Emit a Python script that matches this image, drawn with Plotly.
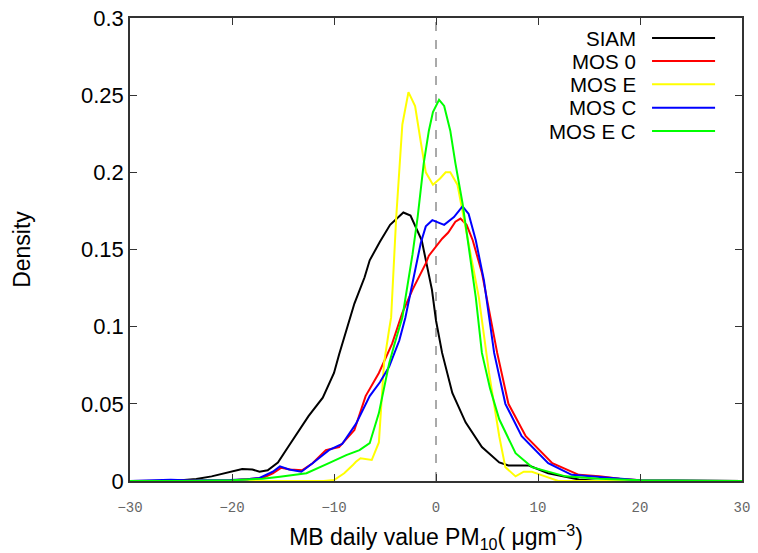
import plotly.graph_objects as go

# ---- data ----
siam_x = [-30, -26, -25, -23.5, -22, -20, -19, -18, -17.3, -16.5, -15.5, -14.5, -13.4, -12.5, -11.1, -10, -9.5, -8.8, -8, -7, -6.5, -5.5, -4.5, -3.2, -2.5, -1.4, -0.4, 0, 0.6, 1.6, 2.9, 4.5, 6.2, 7.1, 8, 9.1, 11, 14, 16, 30]
siam_y = [0, 0, 0.0005, 0.0013, 0.003, 0.006, 0.0078, 0.0075, 0.006, 0.007, 0.012, 0.022, 0.033, 0.042, 0.054, 0.07, 0.082, 0.098, 0.115, 0.132, 0.143, 0.155, 0.166, 0.174, 0.172, 0.156, 0.124, 0.104, 0.083, 0.057, 0.038, 0.022, 0.012, 0.010, 0.010, 0.010, 0.005, 0.001, 0, 0]

mos0_x = [-30, -26, -22, -20, -18, -17, -16, -15.2, -14.3, -13.1, -12.1, -10.8, -9.5, -8, -6.9, -5.6, -4.3, -3.3, -2.3, -1, -0.7, 0, 0.6, 1.2, 1.9, 2.4, 3, 3.6, 4.5, 6, 7.1, 8.8, 11.4, 14, 16, 18, 20, 30]
mos0_y = [0, 0, 0.0003, 0.0005, 0.0012, 0.002, 0.005, 0.0085, 0.0075, 0.007, 0.0115, 0.02, 0.022, 0.033, 0.055, 0.07, 0.089, 0.109, 0.124, 0.141, 0.146, 0.152, 0.157, 0.161, 0.168, 0.17, 0.166, 0.156, 0.135, 0.083, 0.05, 0.029, 0.0115, 0.004, 0.003, 0.0015, 0.0005, 0]

mose_x = [-30, -11, -10, -9, -8.2, -7.85, -7.4, -6.3, -5.6, -5.1, -4.6, -4.4, -3.9, -3.45, -3.3, -2.7, -2.05, -1.5, -1, -0.3, 0.4, 0.95, 1.4, 2.1, 2.9, 3.5, 4.2, 5.2, 6.2, 6.8, 7.8, 8.6, 9.4, 10.7, 12, 30]
mose_y = [0, 0, 0.0006, 0.005, 0.01, 0.0125, 0.0147, 0.0136, 0.025, 0.076, 0.098, 0.106, 0.171, 0.215, 0.231, 0.252, 0.243, 0.22, 0.2, 0.192, 0.196, 0.2, 0.2, 0.192, 0.165, 0.143, 0.119, 0.07, 0.029, 0.009, 0.003, 0.006, 0.006, 0.003, 0, 0]

mosc_x = [-30, -28, -27, -26, -24, -22, -20.2, -18.5, -17.3, -16, -15.3, -14.4, -13.2, -12.1, -10.5, -9.2, -7.85, -6.5, -5.5, -4.6, -3.6, -3, -2.3, -1.5, -1, -0.36, 0.8, 1.76, 2.6, 3.2, 3.9, 4.7, 5.7, 6.8, 8.4, 11, 13.3, 15, 17, 20, 30]
mosc_y = [0, 0.0005, 0.001, 0.0008, 0.0003, 0.0003, 0.0006, 0.0012, 0.002, 0.006, 0.0095, 0.0075, 0.006, 0.0115, 0.02, 0.024, 0.037, 0.055, 0.064, 0.074, 0.091, 0.106, 0.128, 0.154, 0.165, 0.169, 0.166, 0.171, 0.178, 0.173, 0.156, 0.13, 0.083, 0.05, 0.029, 0.0115, 0.004, 0.003, 0.002, 0.0005, 0]

mosec_x = [-30, -25, -20, -17, -15.3, -12.7, -10.5, -8.8, -7.5, -6.5, -5.6, -4.6, -4.1, -3.3, -2.3, -1.8, -1.2, -0.7, -0.3, 0.3, 0.8, 1.4, 1.9, 2.6, 3.2, 3.9, 4.5, 5.3, 6.2, 7.8, 9.4, 12.7, 16, 20, 30]
mosec_y = [0, 0, 0.0005, 0.0015, 0.0028, 0.005, 0.0116, 0.0168, 0.02, 0.0245, 0.044, 0.076, 0.088, 0.106, 0.147, 0.171, 0.206, 0.227, 0.239, 0.247, 0.243, 0.227, 0.206, 0.18, 0.152, 0.119, 0.083, 0.06, 0.04, 0.018, 0.009, 0.003, 0.0015, 0.0005, 0]

series_names = ["SIAM", "MOS 0", "MOS E", "MOS C", "MOS E C"]
series_colors = ["#000000", "#ff0000", "#ffff00", "#0000ff", "#00ff00"]
series_x = [siam_x, mos0_x, mose_x, mosc_x, mosec_x]
series_y = [siam_y, mos0_y, mose_y, mosc_y, mosec_y]

x_ticks = [-30, -20, -10, 0, 10, 20, 30]
x_ticktext = ["\u221230", "\u221220", "\u221210", "0", "10", "20", "30"]
y_ticks = [0, 0.05, 0.1, 0.15, 0.2, 0.25, 0.3]
y_ticktext = ["0", "0.05", "0.1", "0.15", "0.2", "0.25", "0.3"]

SANS = "Liberation Sans, Arial"

# ---- figure ----
fig = go.Figure()
for name, col, xs, ys in zip(series_names, series_colors, series_x, series_y):
    fig.add_trace(go.Scatter(x=xs, y=ys, mode="lines", name=name,
                             line=dict(color=col, width=2), showlegend=False))

# vertical dashed line at zero
fig.add_shape(type="line", xref="x", yref="paper", x0=0, x1=0, y0=0, y1=1,
              line=dict(color="#555555", width=1, dash="dash"), layer="below")

# custom legend (text right-aligned, sample line to the right)
leg_y = [0.9568, 0.9071, 0.8568, 0.8063, 0.7559]
for name, col, yy in zip(series_names, series_colors, leg_y):
    fig.add_annotation(xref="paper", yref="paper", x=0.8284, y=yy, text=name,
                       showarrow=False, xanchor="right", yanchor="middle",
                       borderpad=0,
                       font=dict(family=SANS, size=20.5, color="#000000"))
    fig.add_shape(type="line", xref="paper", yref="paper", x0=0.853, x1=0.956,
                  y0=yy, y1=yy, line=dict(color=col, width=2))

fig.update_layout(
    width=758, height=553,
    margin=dict(l=130, r=16, t=18, b=72, autoexpand=False),
    paper_bgcolor="white", plot_bgcolor="white",
    showlegend=False,
    font=dict(family=SANS, size=20, color="#000000"),
)
fig.update_xaxes(
    range=[-30, 30], tickvals=x_ticks, ticktext=x_ticktext,
    ticks="inside", ticklen=7, tickwidth=1, tickcolor="#333333",
    showline=True, linecolor="#333333", linewidth=1.5, mirror="ticks",
    showgrid=False, zeroline=False, ticklabelstandoff=12, automargin=False,
    tickfont=dict(family="Liberation Mono, DejaVu Sans Mono", size=14, color="#666666"),
    title=dict(text="MB daily value PM<sub>10</sub>( \u03bcgm<sup>\u22123</sup>)",
               font=dict(family=SANS, size=23), standoff=18),
)
fig.update_yaxes(
    range=[0, 0.3], tickvals=y_ticks, ticktext=y_ticktext,
    ticks="inside", ticklen=7, tickwidth=1, tickcolor="#333333",
    showline=True, linecolor="#333333", linewidth=1.5, mirror="ticks",
    showgrid=False, zeroline=False, automargin=False,
    tickfont=dict(family=SANS, size=22, color="#000000"),
    title=dict(text="Density", font=dict(family=SANS, size=23), standoff=44),
)

fig.write_html("out.html")
